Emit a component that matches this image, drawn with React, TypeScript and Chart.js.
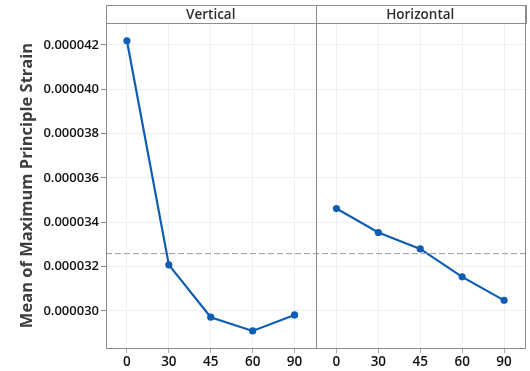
import React, { useEffect, useRef } from "react";
import { Chart, registerables } from "chart.js";

Chart.register(...registerables);

const xLabels = ["0", "30", "45", "60", "90"];
const panelNames = ["Vertical", "Horizontal"];
const verticalValues = [42.19e-6, 32.08e-6, 29.72e-6, 29.1e-6, 29.82e-6];
const horizontalValues = [34.62e-6, 33.54e-6, 32.8e-6, 31.54e-6, 30.48e-6];
const yTickValues = [30e-6, 32e-6, 34e-6, 36e-6, 38e-6, 40e-6, 42e-6];
const yMin = 28.33e-6;
const yMax = 42.99e-6;

const allValues = [...verticalValues, ...horizontalValues];
const grandMean = allValues.reduce((a, b) => a + b, 0) / allValues.length;

const LINE_COLOR = "#0c5db3";
const FRAME_COLOR = "#8c8c8c";
const FONT = "'Open Sans', 'DejaVu Sans', sans-serif";

const panelPlugin = {
  id: "panelPlugin",
  afterDraw(chart: any) {
    const { ctx, chartArea, scales } = chart;
    const x = scales.x;
    const n = xLabels.length;
    const sep = x.getPixelForValue(n - 0.5);
    const left = chartArea.left;
    const right = chartArea.right;
    const top = chartArea.top;
    const bottom = chartArea.bottom;
    const stripTop = 5;
    ctx.save();
    ctx.strokeStyle = FRAME_COLOR;
    ctx.lineWidth = 1;
    const bounds = [
      [left, sep],
      [sep, right],
    ];
    bounds.forEach(([a, b], i) => {
      ctx.fillStyle = "#ffffff";
      ctx.fillRect(a, stripTop, b - a, top - stripTop);
      ctx.strokeRect(Math.round(a) + 0.5, stripTop + 0.5, Math.round(b - a), top - stripTop);
      ctx.fillStyle = "#2e2e2e";
      ctx.font = `600 13.5px ${FONT}`;
      ctx.textAlign = "center";
      ctx.textBaseline = "middle";
      ctx.fillText(panelNames[i], (a + b) / 2, (stripTop + top) / 2 + 1);
    });
    ctx.beginPath();
    ctx.moveTo(Math.round(sep) + 0.5, stripTop);
    ctx.lineTo(Math.round(sep) + 0.5, bottom);
    ctx.moveTo(Math.round(right) + 0.5, stripTop);
    ctx.lineTo(Math.round(right) + 0.5, bottom);
    ctx.moveTo(Math.round(left) + 0.5, stripTop);
    ctx.lineTo(Math.round(left) + 0.5, bottom);
    ctx.stroke();
    ctx.restore();
  },
};

export default function App() {
  const ref = useRef<HTMLCanvasElement>(null);

  useEffect(() => {
    document.body.style.margin = "0";
    const n = xLabels.length;
    const vData = verticalValues.map((v, i) => ({ x: i, y: v }));
    const hData = horizontalValues.map((v, i) => ({ x: i + n, y: v }));
    const meanData = [
      { x: -0.5, y: grandMean },
      { x: 2 * n - 0.5, y: grandMean },
    ];
    const lineDs = (data: any[]) => ({
      data,
      borderColor: LINE_COLOR,
      backgroundColor: LINE_COLOR,
      borderWidth: 2.2,
      pointRadius: 3.6,
      pointBorderWidth: 0,
      pointBackgroundColor: LINE_COLOR,
      tension: 0,
    });
    const chart = new Chart(ref.current!, {
      type: "line",
      data: {
        datasets: [
          {
            data: meanData,
            borderColor: "#999999",
            borderWidth: 1,
            borderDash: [6, 3],
            pointRadius: 0,
          },
          lineDs(vData),
          lineDs(hData),
        ],
      },
      options: {
        animation: false,
        responsive: false,
        layout: { padding: { top: 23, right: 5, left: 0, bottom: 0 } },
        plugins: { legend: { display: false }, tooltip: { enabled: false } },
        scales: {
          x: {
            type: "linear",
            min: -0.5,
            max: 2 * n - 0.5,
            afterBuildTicks: (scale: any) => {
              scale.ticks = Array.from({ length: 2 * n }, (_, i) => ({ value: i }));
            },
            afterFit: (scale: any) => {
              scale.height = 23;
            },
            ticks: {
              autoSkip: false,
              maxRotation: 0,
              padding: 1,
              color: "#111111",
              font: { family: FONT, size: 13.5, weight: "600" },
              callback: (v: any) => xLabels[Math.round(v) % n],
            },
            grid: {
              color: "#efefef",
              tickColor: "#aaaaaa",
              tickLength: 5,
            },
            border: { color: FRAME_COLOR, width: 1 },
          },
          y: {
            min: yMin,
            max: yMax,
            afterBuildTicks: (scale: any) => {
              scale.ticks = yTickValues.map((v) => ({ value: v }));
            },
            afterFit: (scale: any) => {
              scale.width = 106;
            },
            ticks: {
              padding: 2,
              color: "#111111",
              font: { family: FONT, size: 13, weight: "600" },
              callback: (v: any) => Number(v).toFixed(6),
            },
            grid: {
              color: "#efefef",
              tickColor: "#888888",
              tickLength: 5,
            },
            border: { color: FRAME_COLOR, width: 1 },
            title: {
              display: true,
              text: "Mean of Maximum Principle Strain",
              color: "#3d3d3d",
              font: { family: FONT, size: 16.5, weight: "bold" },
              padding: { top: 17, bottom: 0 },
            },
          },
        },
      },
      plugins: [panelPlugin],
    } as any);
    return () => chart.destroy();
  }, []);

  return (
    <div style={{ position: "absolute", left: 0, top: 0, width: 530, height: 371 }}>
      <canvas ref={ref} width={530} height={371} style={{ width: 530, height: 371, display: "block" }} />
    </div>
  );
}
